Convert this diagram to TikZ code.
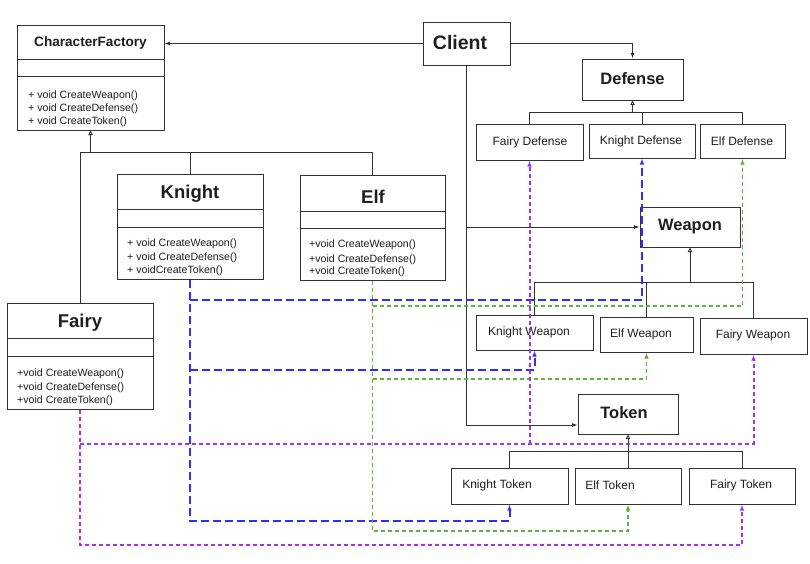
\documentclass[tikz,border=0pt]{standalone}
\usepackage{fontspec}
\setmainfont{Liberation Sans}
\usetikzlibrary{arrows.meta,calc}
\definecolor{ln}{HTML}{333333}
\definecolor{tx}{HTML}{1E1E1E}
\definecolor{bl}{HTML}{2E2EFF}
\definecolor{gr}{HTML}{5DB53A}
\definecolor{pu}{HTML}{A030FF}
\begin{document}
\begin{tikzpicture}[x=1pt,y=-1pt,
  box/.style={draw=ln, line width=1pt, fill=white, inner sep=0pt},
  ttl/.style={font=\fontsize{#1}{#1}\selectfont\bfseries, text=tx, inner sep=0pt},
  lbl/.style={font=\fontsize{12}{12}\selectfont, text=tx, inner sep=0pt},
  mth/.style={font=\fontsize{10.6}{13.2}\selectfont, text=tx, inner sep=0pt, anchor=base west},
  divl/.style={draw=ln, line width=1pt},
  con/.style={draw=ln, line width=0.9pt},
  inh/.style={con, -{Triangle[open, length=4.5pt, width=4.5pt]}},
  assoc/.style={con, -{Latex[length=5.5pt, width=4pt]}},
  kdash/.style={draw=bl, line width=2pt, dash pattern=on 8pt off 4pt},
  edash/.style={draw=gr, line width=1.2pt, dash pattern=on 4pt off 3pt},
  fdash/.style={draw=pu, line width=2pt, dash pattern=on 4pt off 3pt},
  tipk/.style={-{Latex[length=6pt, width=4.5pt]}},
]
\useasboundingbox (0,0) rectangle (810,563);

% ---------- class boxes ----------
\node[box, minimum width=147pt, minimum height=105pt] (cf) at (90.5,77.5) {};
\draw[divl] (cf.west |- 0,59) -- (cf.east |- 0,59) (cf.west |- 0,76) -- (cf.east |- 0,76);
\node[ttl=13.6] (cft) at (90.5,43) {CharacterFactory};
\node[mth] (cfm1) at (28,98) {+ void CreateWeapon()};
\node[mth] (cfm2) at (28,111) {+ void CreateDefense()};
\node[mth] (cfm3) at (28,124) {+ void CreateToken()};

\node[box, minimum width=146pt, minimum height=105pt] (knight) at (190,226.5) {};
\draw[divl] (knight.west |- 0,209) -- (knight.east |- 0,209) (knight.west |- 0,227) -- (knight.east |- 0,227);
\node[ttl=18.5] (kt) at (190,194) {Knight};
\node[mth] (km1) at (127,246) {+ void CreateWeapon()};
\node[mth] (km2) at (127,260) {+ void CreateDefense()};
\node[mth] (km3) at (127,273) {+ voidCreateToken()};

\node[box, minimum width=145pt, minimum height=105pt] (elf) at (372.5,227.5) {};
\draw[divl] (elf.west |- 0,211) -- (elf.east |- 0,211) (elf.west |- 0,228) -- (elf.east |- 0,228);
\node[ttl=18.5] (et) at (373,197) {Elf};
\node[mth] (em1) at (309,247) {+void CreateWeapon()};
\node[mth] (em2) at (309,262) {+void CreateDefense()};
\node[mth] (em3) at (309,274) {+void CreateToken()};

\node[box, minimum width=146pt, minimum height=106pt] (fairy) at (80,356) {};
\draw[divl] (fairy.west |- 0,338) -- (fairy.east |- 0,338) (fairy.west |- 0,356) -- (fairy.east |- 0,356);
\node[ttl=18.5] (ft) at (80,323) {Fairy};
\node[mth] (fm1) at (17,376) {+void CreateWeapon()};
\node[mth] (fm2) at (17,390) {+void CreateDefense()};
\node[mth] (fm3) at (17,403) {+void CreateToken()};

% ---------- simple boxes ----------
\node[box, minimum width=87pt, minimum height=43pt] (client) at (466.5,43.5) {};
\node[ttl=19.5] (clt) at (460,43) {Client};

\node[box, minimum width=101pt, minimum height=41pt] (defense) at (632.5,79.5) {};
\node[ttl=16.5] (dt) at (632.5,79) {Defense};
\node[box, minimum width=107pt, minimum height=36pt] (fdef) at (529.5,142) {};
\node[lbl] at (530,142) {Fairy Defense};
\node[box, minimum width=106pt, minimum height=34pt] (kdef) at (642,141) {};
\node[lbl] at (641,141) {Knight Defense};
\node[box, minimum width=85pt, minimum height=34pt] (edef) at (742.5,141) {};
\node[lbl] at (742,141) {Elf Defense};

\node[box, minimum width=100pt, minimum height=40pt] (weapon) at (690,227) {};
\node[ttl=16.5] (wt) at (690,227) {Weapon};
\node[box, minimum width=117pt, minimum height=35pt] (kweap) at (534.5,332.5) {};
\node[lbl] at (529,332) {Knight Weapon};
\node[box, minimum width=93pt, minimum height=35pt] (eweap) at (646.5,334.5) {};
\node[lbl] at (641,334) {Elf Weapon};
\node[box, minimum width=107pt, minimum height=36pt] (fweap) at (753.5,336) {};
\node[lbl] at (753,335) {Fairy Weapon};

\node[box, minimum width=100pt, minimum height=40pt] (token) at (628,414) {};
\node[ttl=16.5] (tt) at (624,413) {Token};
\node[box, minimum width=117pt, minimum height=36pt] (ktok) at (509.5,486) {};
\node[lbl] at (497,485) {Knight Token};
\node[box, minimum width=106pt, minimum height=36pt] (etok) at (628,486) {};
\node[lbl] at (610,485) {Elf Token};
\node[box, minimum width=106pt, minimum height=36pt] (ftok) at (742,486) {};
\node[lbl] at (741,485) {Fairy Token};

% ---------- inheritance ----------
\coordinate (jcf) at (90.5,152);
\draw[con] (fairy.north) |- (jcf);
\draw[con] (knight.north) |- (jcf);
\draw[con] (elf.north) |- (jcf);
\draw[inh] (jcf) -- (cf.south);

\coordinate (jdef) at (632.5,112);
\draw[con] (fdef.north) |- (jdef);
\draw[con] (kdef.north) |- (jdef);
\draw[con] (edef.north) |- (jdef);
\draw[inh] (jdef) -- (defense.south);

\coordinate (jw) at (690,282);
\draw[con] (kweap.north) |- (jw);
\draw[con] (eweap.north) |- (jw);
\draw[con] (fweap.north) |- (jw);
\draw[inh] (jw) -- (weapon.south);

\coordinate (jt) at (628,451);
\draw[con] (ktok.north) |- (jt);
\draw[con] (etok.north) |- (jt);
\draw[con] (ftok.north) |- (jt);
\draw[inh] (jt) -- (token.south);

% ---------- client associations ----------
\draw[assoc] (client.west) -- (client.west -| cf.east);
\draw[assoc] (client.east) -| (defense.north);
\draw[assoc] (client.south |- weapon.west) -- (weapon.west);
\draw[assoc] (client.south) |- ($(token.west)+(0,11)$);

% ---------- dependencies (Knight, blue) ----------
\coordinate (kb1) at ($(knight.south)+(0,20)$);
\coordinate (kb2) at ($(knight.south)+(0,90)$);
\draw[kdash, tipk] (knight.south) -- ++(0,241) -| (ktok.south);
\draw[kdash, tipk] (kb1) -| (kdef.south);
\draw[kdash, tipk] (kb2) -| (kweap.south);

% ---------- dependencies (Elf, green) ----------
\coordinate (eb1) at ($(elf.south)+(0,25.5)$);
\coordinate (eb2) at ($(elf.south)+(0,98.5)$);
\draw[edash, tipk] (elf.south) -- ++(0,250.5) -| (etok.south);
\draw[edash, tipk] (eb1) -| (edef.south);
\draw[edash, tipk] (eb2) -| (eweap.south);

% ---------- dependencies (Fairy, purple) ----------
\coordinate (fb1) at ($(fairy.south)+(0,34)$);
\coordinate (fb2) at (fb1 -| fdef.south);
\draw[fdash, tipk] (fairy.south) -- ++(0,135) -| (ftok.south);
\draw[fdash, tipk] (fb1) -| (fweap.south);
\draw[fdash, tipk] (fb2) -- (fdef.south);
\end{tikzpicture}
\end{document}
